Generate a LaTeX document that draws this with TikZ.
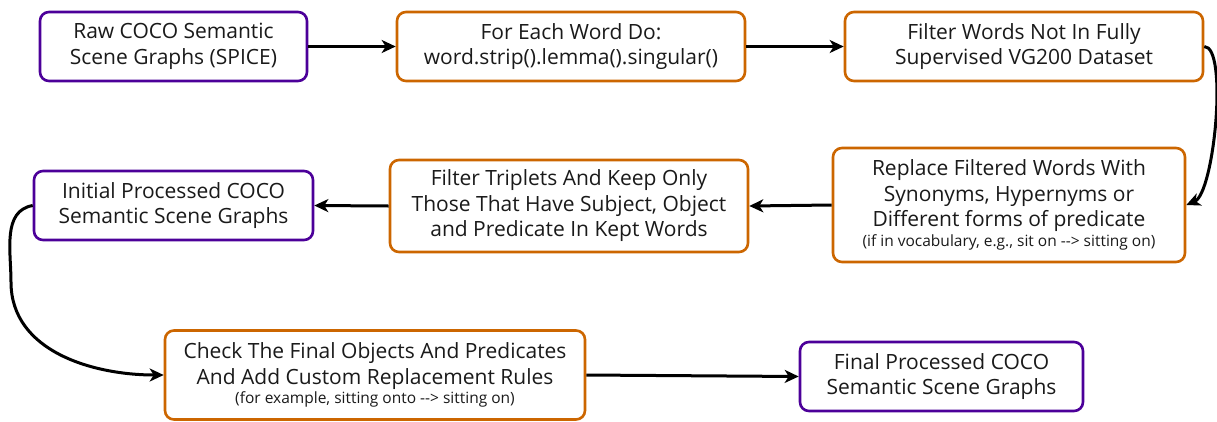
\documentclass[tikz,border=0pt]{standalone}
\usepackage{fontspec}
\setmainfont{Open Sans}
\usetikzlibrary{arrows.meta}
\definecolor{purp}{HTML}{4C0099}
\definecolor{orng}{HTML}{CC6600}
\definecolor{ink}{HTML}{1A1A1A}
\begin{document}
\begin{tikzpicture}[x=1pt,y=-1pt,
  box/.style={draw, line width=2.6pt, rounded corners=9pt, fill=white, text=ink,
    align=center, font=\fontsize{21}{25.5}\selectfont, inner sep=0pt},
  pbox/.style={box, draw=purp},
  obox/.style={box, draw=orng},
  flow/.style={-{Stealth[length=14pt,width=13pt,inset=4pt]}, line width=3pt, draw=black}]
\useasboundingbox[fill=white] (0,0) rectangle (1217,421);

% first row
\node[pbox, minimum width=267pt, minimum height=69pt] (raw) at (173.5,46.5)
  {Raw COCO Semantic\\Scene Graphs (SPICE)};
\node[obox, minimum width=348pt, minimum height=69pt] (each) at (571,46.5)
  {For Each Word Do:\\word.strip().lemma().singular()};
\node[obox, minimum width=358pt, minimum height=69pt] (vg) at (1024,46.5)
  {Filter Words Not In Fully\\Supervised VG200 Dataset};

% second row
\node[obox, minimum width=352pt, minimum height=114pt] (repl) at (1009,205)
  {Replace Filtered Words With\\Synonyms, Hypernyms or\\Different forms of predicate\\[-6pt]
   {\fontsize{15.5}{18}\selectfont (if in vocabulary, e.g., sit on -{}-{}> sitting on)}};
\node[obox, minimum width=358pt, minimum height=92pt] (trip) at (569,206)
  {Filter Triplets And Keep Only\\Those That Have Subject, Object\\and Predicate In Kept Words};
\node[pbox, minimum width=279pt, minimum height=69pt] (init) at (173.5,205.5)
  {Initial Processed COCO\\Semantic Scene Graphs};

% third row
\node[obox, minimum width=420pt, minimum height=89pt] (check) at (375,375)
  {Check The Final Objects And Predicates\\And Add Custom Replacement Rules\\[-6pt]
   {\fontsize{15.5}{18}\selectfont (for example, sitting onto -{}-{}> sitting on)}};
\node[pbox, minimum width=283pt, minimum height=69pt] (final) at (941.5,376.5)
  {Final Processed COCO\\Semantic Scene Graphs};

\coordinate (bend) at (11,282);

% connectors
\draw[flow] (raw.east) -- (each.west);
\draw[flow] (each.east) -- (vg.west);
\draw[flow] (vg.east) .. controls +(24,0) and +(28,-12) .. (repl.east);
\draw[flow] (repl.west) -- (trip.east);
\draw[flow] (trip.west) -- (init.east);
\draw[flow] (init.west) to[out=190,in=90] (bend) to[out=-90,in=180] (check.west);
\draw[flow] (check.east) -- (final.west);
\end{tikzpicture}
\end{document}
